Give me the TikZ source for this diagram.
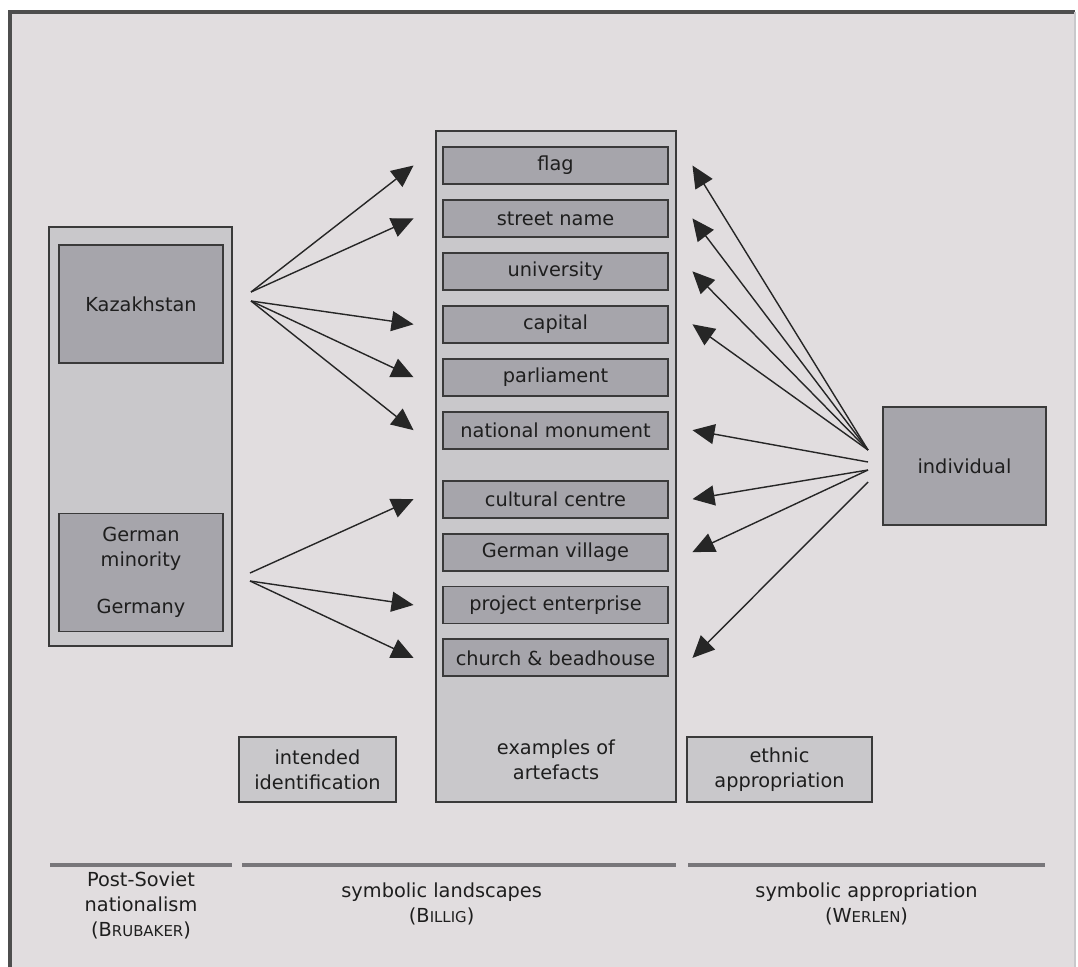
\documentclass[tikz,border=0pt]{standalone}
\usepackage{fontspec}
\setmainfont{DejaVu Sans}
\usepackage{xcolor}
\usepackage{tikz}
\usetikzlibrary{arrows.meta, positioning, calc}

\definecolor{panelbg}{HTML}{E1DDDF}
\definecolor{boxlight}{HTML}{C9C8CB}
\definecolor{boxdark}{HTML}{A6A5AB}
\definecolor{edgegray}{HTML}{3A3A3A}
\definecolor{rulegray}{HTML}{78767A}
\definecolor{textgray}{HTML}{1E1E1E}

\newcommand{\smallcapsname}[2]{#1{\fontsize{8.5}{10}\selectfont #2}}

\begin{document}
\begin{tikzpicture}[
    textfont/.style={font=\fontsize{11}{14}\selectfont, text=textgray},
    outerbox/.style={rectangle, draw=edgegray, fill=boxlight, line width=0.9pt},
    country/.style={rectangle, draw=edgegray, fill=boxdark, line width=1.1pt, minimum width=3.28cm, minimum height=2.36cm, align=center, textfont},
    column/.style={rectangle, draw=edgegray, fill=boxlight, line width=0.9pt, minimum width=4.8cm, minimum height=13.42cm},
    item/.style={rectangle, draw=edgegray, fill=boxdark, line width=1.1pt, minimum width=4.5cm, minimum height=0.74cm, inner sep=1pt, textfont},
    sidebox/.style={rectangle, draw=edgegray, fill=boxlight, line width=1.1pt, minimum height=1.3cm, align=center, textfont},
    arrow/.style={-{Triangle[length=0.44cm, width=0.4cm]}, line width=0.8pt, draw=black!85},
    rule/.style={line width=2.8pt, draw=rulegray},
    caption/.style={align=center, textfont}
]
\useasboundingbox (0,0) rectangle (21.56,-19.34);

% Background and frame
\fill[white] (0,0) rectangle (21.56,-19.34);
\fill[panelbg] (0.2,-0.24) rectangle (21.5,-19.34);
\draw[edgegray!90, line width=1.8pt] (0.2,-19.34) -- (0.2,-0.24) -- (21.5,-0.24);
\draw[boxlight, line width=0.8pt] (21.5,-0.24) -- (21.5,-19.34);

% Post-Soviet nationalism
\node[outerbox, minimum width=3.66cm, minimum height=8.38cm] (nation) at (2.81,-8.73) {};
\node[country] (kaz) at (2.82,-6.08) {Kazakhstan};
\node[country] (ger) at (2.82,-11.45) {German\\minority\\[13pt]Germany};

% Symbolic landscapes
\node[column] (artefacts) at (11.12,-9.33) {};
\node[item] (flag) at (11.11,-3.31) {flag};
\node[item, below=0.28cm of flag] (street) {street name};
\node[item, below=0.28cm of street] (univ) {university};
\node[item, below=0.28cm of univ] (capital) {capital};
\node[item, below=0.28cm of capital] (parl) {parliament};
\node[item, below=0.28cm of parl] (monument) {national monument};
\node[item, below=0.6cm of monument] (centre) {cultural centre};
\node[item, below=0.28cm of centre] (village) {German village};
\node[item, below=0.28cm of village] (project) {project enterprise};
\node[item, below=0.28cm of project] (church) {church \& beadhouse};
\node[caption] (examples) at (11.12,-15.2) {examples of\\artefacts};

% Symbolic appropriation
\node[country, minimum width=3.26cm] (individual) at (19.29,-9.32) {individual};

% Side labels
\node[sidebox, minimum width=3.14cm] (intended) at (6.35,-15.39) {intended\\identification};
\node[sidebox, minimum width=3.7cm] (ethnic) at (15.59,-15.39) {ethnic\\appropriation};

% Arrow origins
\coordinate (kzA) at (5.02,-5.84);
\coordinate (kzB) at (5.02,-6.02);
\coordinate (deA) at (5.0,-11.46);
\coordinate (deB) at (5.0,-11.62);
\coordinate (indA) at (17.36,-9.0);
\coordinate (indB) at (17.36,-9.24);
\coordinate (indC) at (17.36,-9.4);
\coordinate (indD) at (17.36,-9.64);

% Intended identification
\draw[arrow] (kzA) -- ([xshift=-0.57cm]flag.west);
\draw[arrow] (kzA) -- ([xshift=-0.57cm]street.west);
\draw[arrow] (kzB) -- ([xshift=-0.57cm]capital.west);
\draw[arrow] (kzB) -- ([xshift=-0.57cm]parl.west);
\draw[arrow] (kzB) -- ([xshift=-0.57cm]monument.west);
\draw[arrow] (deA) -- ([xshift=-0.57cm]centre.west);
\draw[arrow] (deB) -- ([xshift=-0.57cm]project.west);
\draw[arrow] (deB) -- ([xshift=-0.57cm]church.west);

% Ethnic appropriation
\draw[arrow] (indA) -- ([xshift=0.47cm]flag.east);
\draw[arrow] (indA) -- ([xshift=0.47cm]street.east);
\draw[arrow] (indA) -- ([xshift=0.47cm]univ.east);
\draw[arrow] (indA) -- ([xshift=0.47cm]capital.east);
\draw[arrow] (indB) -- ([xshift=0.47cm]monument.east);
\draw[arrow] (indC) -- ([xshift=0.47cm]centre.east);
\draw[arrow] (indC) -- ([xshift=0.47cm]village.east);
\draw[arrow] (indD) -- ([xshift=0.47cm]church.east);

% Theory rules and captions
\coordinate (natL) at (1.0,-17.3);
\coordinate (natR) at (4.64,-17.3);
\coordinate (landL) at (4.84,-17.3);
\coordinate (landR) at (13.52,-17.3);
\coordinate (apprL) at (13.76,-17.3);
\coordinate (apprR) at (20.9,-17.3);
\coordinate (natM) at ($(natL)!0.5!(natR)$);
\coordinate (landM) at ($(landL)!0.46!(landR)$);
\coordinate (apprM) at ($(apprL)!0.5!(apprR)$);
\draw[rule] (natL) -- (natR);
\draw[rule] (landL) -- (landR);
\draw[rule] (apprL) -- (apprR);
\node[caption, below=0.02cm of natM] (brubaker) {Post-Soviet\\nationalism\\(\smallcapsname{B}{RUBAKER})};
\node[caption, below=0.24cm of landM] (billig) {symbolic landscapes\\(\smallcapsname{B}{ILLIG})};
\node[caption, below=0.24cm of apprM] (werlen) {symbolic appropriation\\(\smallcapsname{W}{ERLEN})};

\end{tikzpicture}
\end{document}
